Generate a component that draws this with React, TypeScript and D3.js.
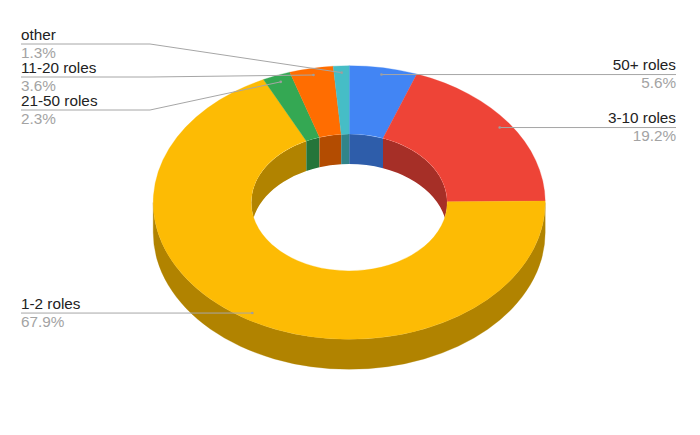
import React from "react";
import * as d3 from "d3";

const categories = ["50+ roles", "3-10 roles", "1-2 roles", "21-50 roles", "11-20 roles", "other"];
const shares = [5.6, 19.2, 67.9, 2.3, 3.6, 1.3];
const shareLabels = ["5.6%", "19.2%", "67.9%", "2.3%", "3.6%", "1.3%"];
const colors = ["#4285f4", "#ee4437", "#fdbb04", "#34a853", "#ff6d01", "#46bdc6"];
const wallColors = ["#2e5daa", "#a62f27", "#b18300", "#24753a", "#b34c01", "#318489"];

// y of the label's rule, which side the label sits on, and where the rule turns toward the slice
const leaderY = [74, 127, 313, 110, 77, 44];
const side = [1, 1, -1, -1, -1, -1];
const elbowX = [null, null, null, 150, 150, 150];

const cx = 349.2, cy = 202.5, rx = 196, ry = 136.8, depth = 30;
const irx = 98, iry = 68.4;
const leftX = 21, rightX = 676;

const pieGen = d3.pie<number>().sort(null).startAngle(0).endAngle(2 * Math.PI);
const arcs = pieGen(shares);

const pt = (a: number, rX: number, rY: number): [number, number] => [
  cx + rX * Math.sin(a),
  cy - rY * Math.cos(a),
];

function wall(a0: number, a1: number, rX: number, rY: number) {
  if (a1 <= a0) return "";
  const [x0, y0] = pt(a0, rX, rY);
  const [x1, y1] = pt(a1, rX, rY);
  const large = a1 - a0 > Math.PI ? 1 : 0;
  return `M${x0},${y0}A${rX},${rY} 0 ${large} 1 ${x1},${y1}L${x1},${y1 + depth}A${rX},${rY} 0 ${large} 0 ${x0},${y0 + depth}Z`;
}

function ring(a0: number, a1: number) {
  const [ox0, oy0] = pt(a0, rx, ry);
  const [ox1, oy1] = pt(a1, rx, ry);
  const [ix0, iy0] = pt(a0, irx, iry);
  const [ix1, iy1] = pt(a1, irx, iry);
  const large = a1 - a0 > Math.PI ? 1 : 0;
  return `M${ox0},${oy0}A${rx},${ry} 0 ${large} 1 ${ox1},${oy1}L${ix1},${iy1}A${irx},${iry} 0 ${large} 0 ${ix0},${iy0}Z`;
}

const HALF = Math.PI / 2;
const font = "'Liberation Sans', Arial, sans-serif";

export default function App() {
  return (
    <svg
      width={700}
      height={435}
      style={{ position: "absolute", left: 0, top: 0, background: "#fff" }}
    >
      <defs>
        <clipPath id="hole">
          <ellipse cx={cx} cy={cy} rx={irx} ry={iry} />
        </clipPath>
      </defs>
      {/* outer wall: front half only */}
      {arcs.map((d, i) => (
        <path
          key={"o" + i}
          d={wall(Math.max(d.startAngle, HALF), Math.min(d.endAngle, 3 * HALF), rx, ry)}
          fill={wallColors[i]}
          stroke={wallColors[i]}
          strokeWidth={0.3}
        />
      ))}
      {/* inner wall: back half only, seen through the hole */}
      <g clipPath="url(#hole)">
        {arcs.map((d, i) => (
          <React.Fragment key={"i" + i}>
            <path d={wall(d.startAngle, Math.min(d.endAngle, HALF), irx, iry)} fill={wallColors[i]} />
            <path
              d={wall(Math.max(d.startAngle, 3 * HALF), d.endAngle, irx, iry)}
              fill={wallColors[i]}
            />
          </React.Fragment>
        ))}
      </g>
      {/* top face */}
      {arcs.map((d, i) => (
        <path
          key={"t" + i}
          d={ring(d.startAngle, d.endAngle)}
          fill={colors[i]}
          stroke={colors[i]}
          strokeWidth={0.3}
        />
      ))}
      {/* leaders */}
      {arcs.map((d, i) => {
        const mid = (d.startAngle + d.endAngle) / 2;
        const [ax, ay] = pt(mid, rx * 0.94, ry * 0.95);
        const y = leaderY[i];
        const end = side[i] > 0 ? rightX : leftX;
        const elbow = elbowX[i];
        const pts: [number, number][] =
          elbow != null ? [[end, y], [elbow, y], [ax, ay]] : [[end, ay], [ax, ay]];
        return (
          <g key={"l" + i}>
            <path d={d3.line()(pts) ?? ""} fill="none" stroke="#a6a6a6" strokeWidth={1} />
            <circle cx={ax} cy={ay} r={1.3} fill="#9e9e9e" />
          </g>
        );
      })}
      {/* labels */}
      {arcs.map((_, i) => {
        const x = side[i] > 0 ? rightX : leftX;
        const anchor = side[i] > 0 ? "end" : "start";
        return (
          <g key={"x" + i} fontFamily={font} fontSize={15.3} textAnchor={anchor}>
            <text x={x} y={leaderY[i] - 4} fill="#222222">{categories[i]}</text>
            <text x={x} y={leaderY[i] + 13.5} fill="#a3a3a3">{shareLabels[i]}</text>
          </g>
        );
      })}
    </svg>
  );
}
